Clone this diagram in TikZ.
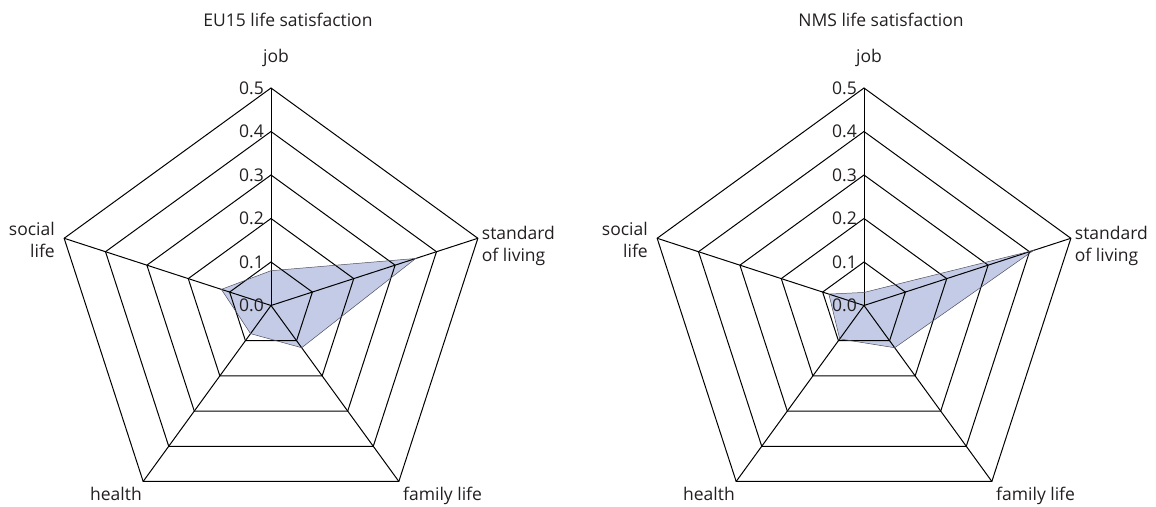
\documentclass[tikz,border=0pt]{standalone}
\usepackage{fontspec}
\setmainfont{Open Sans}
\definecolor{webfill}{RGB}{196,203,230}
\definecolor{webline}{RGB}{80,80,95}
\definecolor{inkgray}{RGB}{35,31,32}
\tikzset{
  axislabel/.style={inner sep=0pt, text=inkgray, font={\fontsize{17.5}{22}\selectfont}},
  gridline/.style={line width=1pt, line join=miter},
  webarea/.style={draw=webline, line width=0.5pt},
}
% one chart: #1 name, #2 title, values in tenths: #3 job, #4 standard of living,
% #5 family life, #6 health, #7 social life
\newcommand{\lifechart}[7]{
  \fill[webfill] (90:{#3*43.5}) -- (18:{#4*43.5}) -- (-54:{#5*43.5})
    -- (-126:{#6*43.5}) -- (162:{#7*43.5}) -- cycle;
  \foreach \r in {1,...,5}
    \draw[gridline] (90:{\r*43.5}) -- (18:{\r*43.5}) -- (-54:{\r*43.5})
      -- (-126:{\r*43.5}) -- (162:{\r*43.5}) -- cycle;
  \foreach \ang in {90,18,-54,-126,162}
    \draw[gridline] (0,0) -- (\ang:217.5);
  \draw[webarea] (90:{#3*43.5}) -- (18:{#4*43.5}) -- (-54:{#5*43.5})
    -- (-126:{#6*43.5}) -- (162:{#7*43.5}) -- cycle;
  \foreach \r in {0,...,5}
    \node[axislabel, anchor=east] (#1-tick\r) at (-7,{\r*43.5}) {0.\r};
  \node[axislabel, anchor=base] (#1-title) at (17,278.8) {#2};
  \node[axislabel, anchor=base] (#1-job) at (5,242.5) {job};
  \node[axislabel, anchor=west, align=left] (#1-std) at (210.7,59.5) {standard\\of living};
  \node[axislabel, anchor=base west] (#1-family) at (132,-194.5) {family life};
  \node[axislabel, anchor=base east] (#1-health) at (-129,-194.5) {health};
  \node[axislabel, anchor=east, align=right] (#1-social) at (-216,65.5) {social\\life};
}
\begin{document}
\begin{tikzpicture}[x=1pt,y=1pt]
  \useasboundingbox (0,0) rectangle (1156,506);
  \begin{scope}[shift={(271,200.5)}]
    \lifechart{eu}{EU15 life satisfaction}{0.8}{3.5}{1.2}{0.8}{1.2}
  \end{scope}
  \begin{scope}[shift={(864,200.5)}]
    \lifechart{nms}{NMS life satisfaction}{0.3}{4.1}{1.2}{0.95}{0.85}
  \end{scope}
\end{tikzpicture}
\end{document}
